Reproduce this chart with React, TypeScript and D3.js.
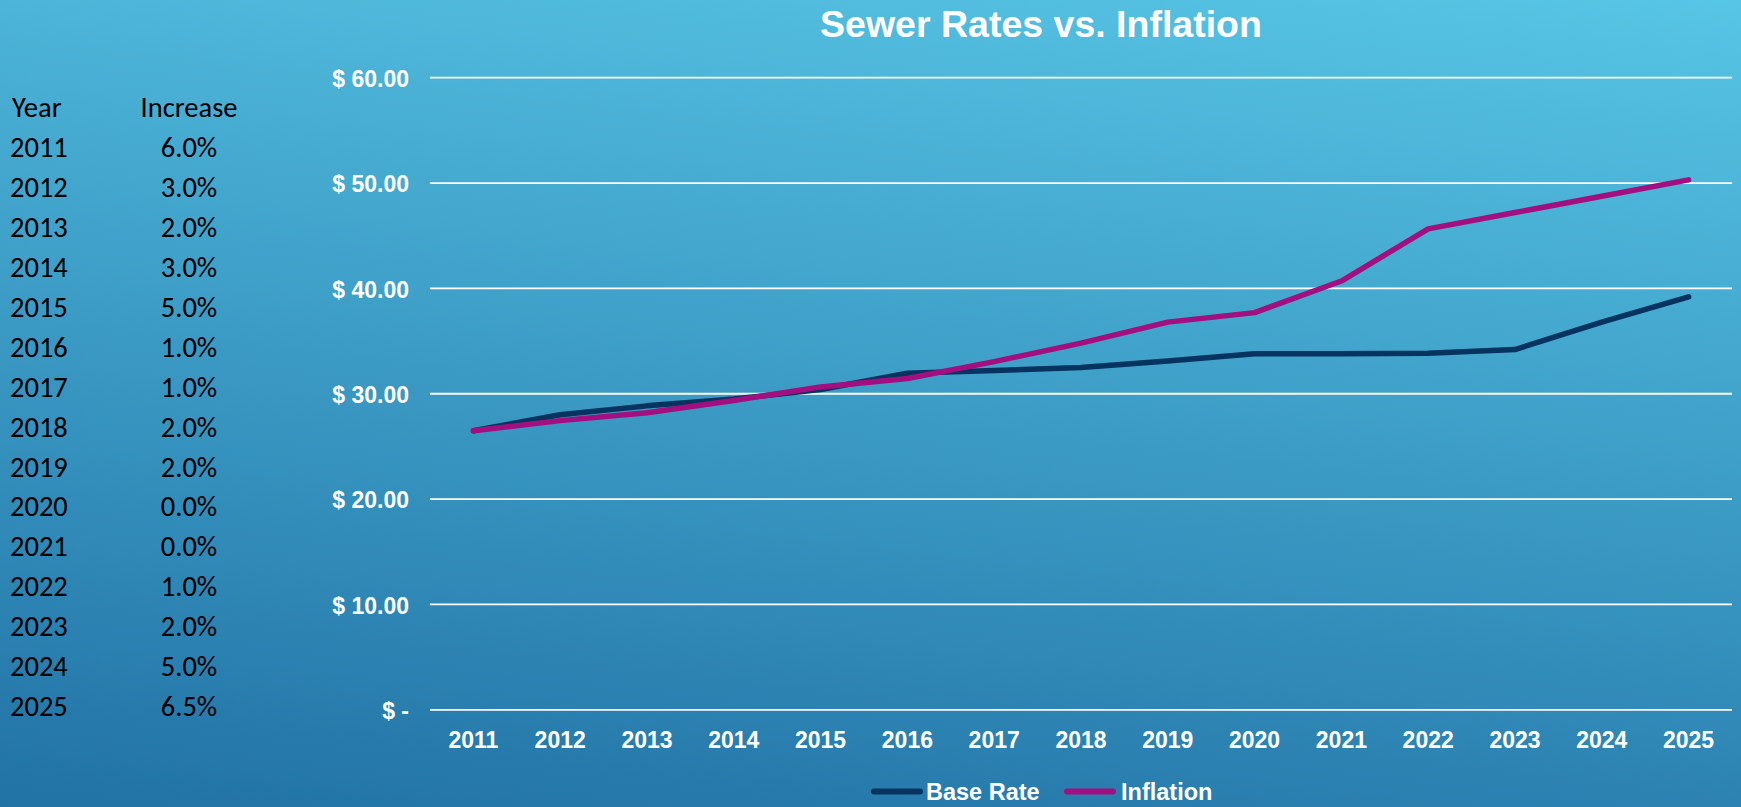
import React from "react";
import * as d3 from "d3";

const years = ["2011","2012","2013","2014","2015","2016","2017","2018","2019","2020","2021","2022","2023","2024","2025"];
const increases = ["6.0%","3.0%","2.0%","3.0%","5.0%","1.0%","1.0%","2.0%","2.0%","0.0%","0.0%","1.0%","2.0%","5.0%","6.5%"];
const baseRate = [26.49, 28.0, 28.85, 29.5, 30.4, 31.95, 32.2, 32.5, 33.1, 33.8, 33.8, 33.85, 34.2, 36.8, 39.2];
const inflation = [26.49, 27.45, 28.2, 29.35, 30.65, 31.45, 33.05, 34.8, 36.8, 37.7, 40.7, 45.65, 47.2, 48.75, 50.3];
const yTicks = [0, 10, 20, 30, 40, 50, 60];
const seriesNames = ["Base Rate", "Inflation"];
const seriesColors = ["#06335f", "#a30f80"];

const W = 1741;
const H = 807;
const chartFont = "'Liberation Sans', Arial, sans-serif";
const tableFont = "Carlito, Calibri, Lato, 'Open Sans', sans-serif";

export default function App() {
  const x = d3.scalePoint<string>().domain(years).range([430, 1732]).padding(0.5);
  const y = d3.scaleLinear().domain([0, 60]).range([709.8, 77.7]);
  const line = d3
    .line<number>()
    .x((_, i) => x(years[i]) as number)
    .y((v) => y(v));
  const fmt = (v: number) => (v === 0 ? "$ -" : "$ " + d3.format(".2f")(v));
  const series = [baseRate, inflation];

  const legendItems = [
    { x0: 871, tx: 926 },
    { x0: 1064, tx: 1121 },
  ];

  return (
    <svg
      width={W}
      height={H}
      style={{ position: "fixed", left: 0, top: 0, display: "block" }}
    >
      <defs>
        <linearGradient id="bg" gradientUnits="userSpaceOnUse" x1={0} y1={807} x2={115} y2={-187}>
          <stop offset="0" stopColor="#2172a5" />
          <stop offset="1" stopColor="#57c5e5" />
        </linearGradient>
      </defs>
      <rect x={0} y={0} width={W} height={H} fill="url(#bg)" />

      <text
        x={1041}
        y={36.7}
        textAnchor="middle"
        fill="#fff"
        fontFamily={chartFont}
        fontWeight="bold"
        fontSize={37.5}
      >
        Sewer Rates vs. Inflation
      </text>

      {/* left table */}
      <g fontFamily={tableFont} fontSize={28.5} fill="#000">
        <text x={12} y={117.3}>Year</text>
        <text x={189} y={117.3} textAnchor="middle">Increase</text>
        {years.map((yr, i) => (
          <g key={yr}>
            <text x={10} y={157.3 + i * 39.9}>{yr}</text>
            <text x={189} y={157.3 + i * 39.9} textAnchor="middle">{increases[i]}</text>
          </g>
        ))}
      </g>

      {/* gridlines */}
      {yTicks.map((t) => (
        <line key={t} x1={430} x2={1732} y1={y(t)} y2={y(t)} stroke="#fff" strokeWidth={1.8} />
      ))}
      {/* y labels */}
      <g fontFamily={chartFont} fontWeight="bold" fontSize={23} fill="#fff">
        {yTicks.map((t) => (
          <text key={t} x={409} y={y(t) + 9.2} textAnchor="end">
            {fmt(t)}
          </text>
        ))}
        {years.map((yr) => (
          <text key={yr} x={x(yr) as number} y={748.3} textAnchor="middle">
            {yr}
          </text>
        ))}
      </g>

      {/* lines */}
      {series.map((s, i) => (
        <path
          key={i}
          d={line(s) as string}
          fill="none"
          stroke={seriesColors[i]}
          strokeWidth={5.5}
          strokeLinecap="round"
          strokeLinejoin="round"
        />
      ))}

      {/* legend */}
      <g fontFamily={chartFont} fontWeight="bold" fontSize={23.5} fill="#fff">
        {seriesNames.map((n, i) => (
          <g key={n}>
            <line
              x1={legendItems[i].x0 + 3}
              x2={legendItems[i].x0 + 49}
              y1={791.5}
              y2={791.5}
              stroke={seriesColors[i]}
              strokeWidth={6}
              strokeLinecap="round"
            />
            <text x={legendItems[i].tx} y={800}>{n}</text>
          </g>
        ))}
      </g>
    </svg>
  );
}
